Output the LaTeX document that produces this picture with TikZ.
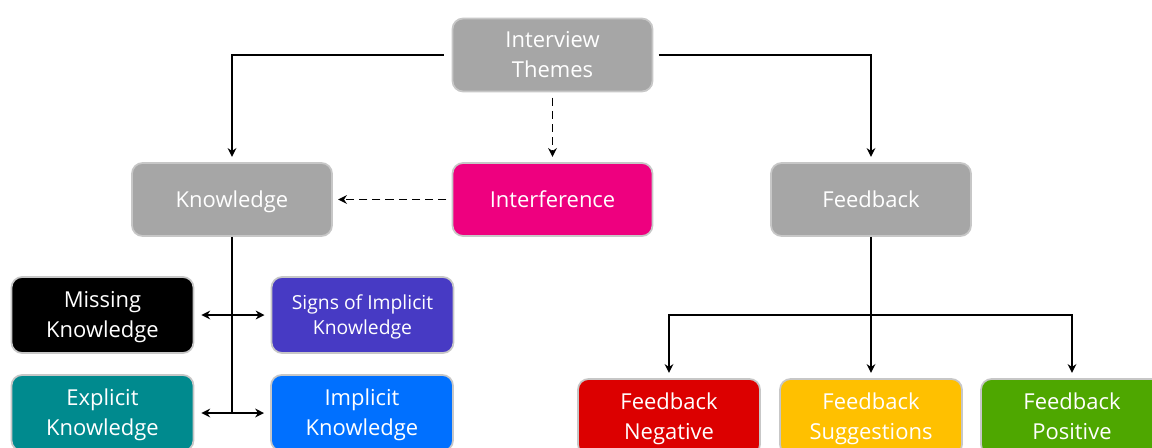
\documentclass[tikz,border=0pt]{standalone}
\usepackage{fontspec}
\setmainfont{Open Sans}
\usetikzlibrary{arrows.meta,positioning}

\definecolor{themegray}{RGB}{166,166,166}
\definecolor{interfpink}{RGB}{238,0,127}
\definecolor{signsviolet}{RGB}{71,58,196}
\definecolor{explteal}{RGB}{0,138,142}
\definecolor{implblue}{RGB}{0,112,255}
\definecolor{fbred}{RGB}{220,0,0}
\definecolor{fbyellow}{RGB}{255,192,0}
\definecolor{fbgreen}{RGB}{78,167,0}

\begin{document}
\begin{tikzpicture}[x=0.02cm,y=-0.02cm,
	themebox/.style={rectangle, rounded corners=6pt, draw=black!22, line width=1pt, text=white, align=center,
		minimum width=4cm, minimum height=1.46cm, font=\fontsize{12.5}{17}\selectfont, text depth=0.5pt},
	subbox/.style={themebox, minimum width=3.64cm, minimum height=1.52cm},
	link/.style={-{Stealth[length=5pt,width=5pt]}, line width=1.1pt},
	twoway/.style={{Stealth[length=5pt,width=5pt]}-{Stealth[length=5pt,width=5pt]}, line width=1.1pt},
	]
	
	\useasboundingbox (0,0) rectangle (1152,447);
	
	% top level
	\node[themebox, fill=themegray] (IT) at (552.5,55) {Interview\\Themes};
	%
	\node[themebox, fill=themegray] (K) at (232,199.5) {Knowledge};
	\node[themebox, fill=interfpink] (I) at (552.5,199.5) {Interference};
	\node[themebox, fill=themegray] (F) at (871,199.5) {Feedback};
	%
	\node[subbox, fill=black] (MK) at (102.5,315) {Missing\\Knowledge};
	\node[subbox, fill=signsviolet, font=\fontsize{11}{14.5}\selectfont] (SIK) at (362.5,315) {Signs of Implicit\\Knowledge};
	\node[subbox, fill=explteal] (EK) at (102.5,413) {Explicit\\Knowledge};
	\node[subbox, fill=implblue] (IK) at (362,413) {Implicit\\Knowledge};
	%
	\node[subbox, fill=fbred] (FN) at (669,417) {Feedback\\Negative};
	\node[subbox, fill=fbyellow] (FS) at (871,417) {Feedback\\Suggestions};
	\node[subbox, fill=fbgreen] (FP) at (1072,417) {Feedback\\Positive};
	
	% connectors
	\draw[link, shorten <=4.5pt, shorten >=3pt] (IT.west) -| (K.north);
	\draw[link, shorten <=3pt, shorten >=3pt] (IT.east) -| (F.north);
	\draw[link, dash pattern=on 4.7pt off 2.8pt, shorten <=3pt, shorten >=3pt] (IT.south) -- (I.north);
	\draw[link, dash pattern=on 4.7pt off 2.8pt, shorten <=3pt, shorten >=3pt] (I.west) -- (K.east);
	%
	\coordinate (kt) at (K.south |- EK.east);
	\draw[line width=1.1pt] (K.south) -- (kt);
	\draw[twoway, shorten <=4pt, shorten >=3.5pt] (MK.east) -- (SIK.west);
	\draw[twoway, shorten <=4pt, shorten >=3.5pt] (EK.east) -- (IK.west);
	%
	\coordinate (fb) at (F.south |- MK.east);
	\draw[link, shorten >=3pt] (F.south) -- (FS.north);
	\draw[link, shorten >=3pt] (fb) -| (FN.north);
	\draw[link, shorten >=3pt] (fb) -| (FP.north);
	
\end{tikzpicture}
\end{document}
